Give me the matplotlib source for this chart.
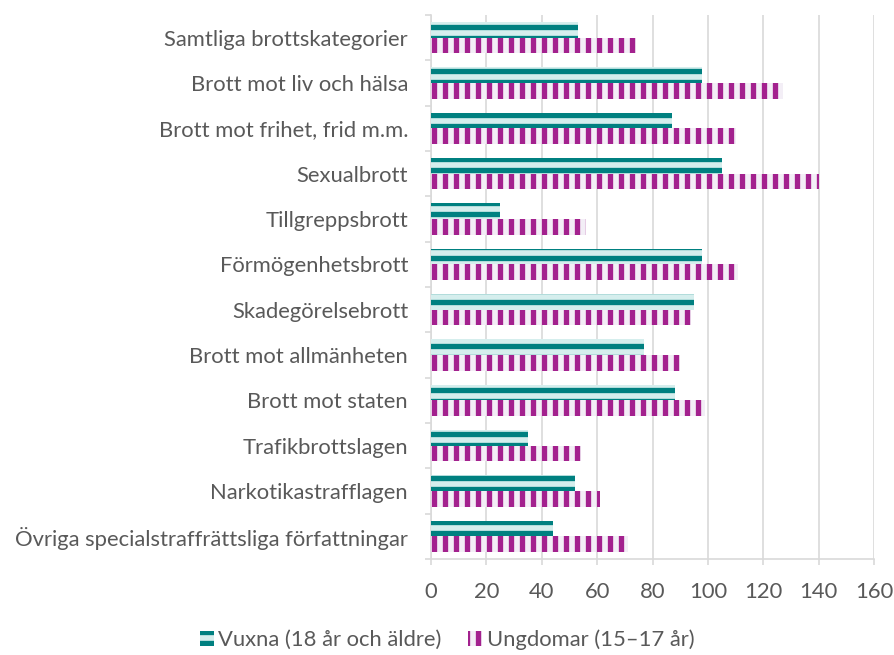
import matplotlib
matplotlib.use('Agg')
import matplotlib.pyplot as plt
import numpy as np

plt.rcParams['font.family'] = ['Lato', 'DejaVu Sans']
plt.rcParams['hatch.linewidth'] = 2.9

categories = ['Samtliga brottskategorier', 'Brott mot liv och hälsa',
              'Brott mot frihet, frid m.m.', 'Sexualbrott', 'Tillgreppsbrott',
              'Förmögenhetsbrott', 'Skadegörelsebrott', 'Brott mot allmänheten',
              'Brott mot staten', 'Trafikbrottslagen', 'Narkotikastrafflagen',
              'Övriga specialstraffrättsliga författningar']
vuxna = [53, 98, 87, 105, 25, 98, 95, 77, 88, 35, 52, 44]
ungdomar = [74, 127, 110, 140, 56, 111, 94, 90, 99, 54, 61, 71]
series_labels = ['Vuxna (18 år och äldre)', 'Ungdomar (15–17 år)']
xticks = [0, 20, 40, 60, 80, 100, 120, 140, 160]

DPI = 132
W, H = 894, 655
fig = plt.figure(figsize=(W / DPI, H / DPI), dpi=DPI)
ax = fig.add_axes([431 / W, 1 - 559 / H, 443 / W, 544 / H])

txt = '#595959'
grid = '#d9d9d9'
y = np.arange(len(categories))
h = 0.345

ax.barh(y - h / 2, vuxna, height=h, color='#d5eeed', edgecolor='#008080',
        linewidth=0, hatch='--', label=series_labels[0], zorder=3)
ax.barh(y + h / 2, ungdomar, height=h, color='#f3eef6', edgecolor='#a3218e',
        linewidth=0, hatch='||', label=series_labels[1], zorder=3)

ax.set_ylim(len(categories) - 0.5, -0.5)
ax.set_xlim(0, 160)
ax.set_xticks(xticks)
ax.set_yticks(y)
ax.set_yticklabels(categories)
ax.set_yticks(np.arange(-0.5, len(categories), 1), minor=True)

ax.grid(axis='x', color=grid, linewidth=0.9, zorder=0)
ax.set_axisbelow(True)
for s in ['top', 'right']:
    ax.spines[s].set_visible(False)
for s in ['left', 'bottom']:
    ax.spines[s].set_color(grid)
    ax.spines[s].set_linewidth(0.9)

ax.tick_params(axis='y', which='major', length=0, pad=12.5, labelsize=12, labelcolor=txt)
ax.tick_params(axis='y', which='minor', length=3.3, width=0.9, color=grid)
ax.tick_params(axis='x', length=3.3, width=0.9, color=grid, pad=9, labelsize=12, labelcolor=txt)

fig.legend(loc='center', bbox_to_anchor=(0.5, 1 - 640 / H), ncol=2, frameon=False,
           fontsize=12, labelcolor=txt, handlelength=0.65, handleheight=0.65,
           handletextpad=0.2, columnspacing=1.2)

fig.savefig('out.png', dpi=DPI)
